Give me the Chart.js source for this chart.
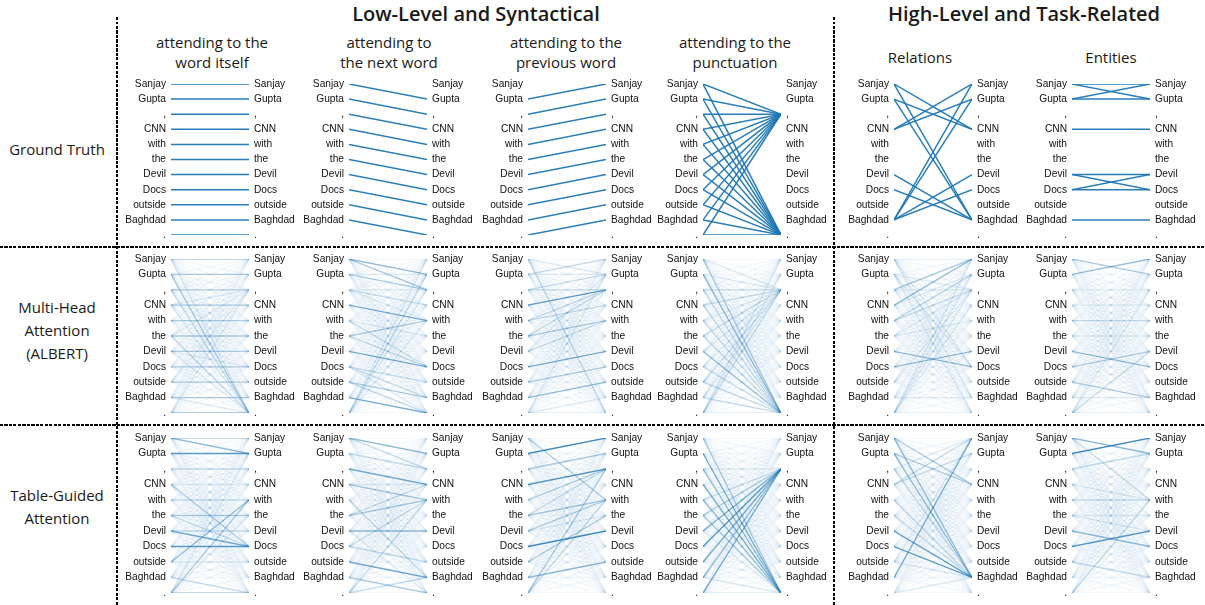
<!DOCTYPE html>
<html>
<head>
<meta charset="utf-8">
<script src="https://cdn.jsdelivr.net/npm/chart.js@4.4.0/dist/chart.umd.min.js"></script>
<style>
  html, body { margin: 0; padding: 0; background: #fff; }
  body { width: 1205px; height: 605px; position: relative; overflow: hidden;
         font-family: "Open Sans", "Noto Sans", sans-serif; color: #1a1a1a; }
  .txt { position: absolute; text-align: center; transform: translateX(-50%); white-space: nowrap; }
  .group { font-size: 20px; font-weight: 600; line-height: 22px; top: 3px; }
  .col { font-size: 15px; line-height: 20px; }
  .row { font-size: 15px; line-height: 23px; }
  .vdiv { position: absolute; width: 2px;
          background: repeating-linear-gradient(to bottom, #000 0 3px, transparent 3px 4.5px); }
  .hdiv { position: absolute; height: 2px; left: 0; width: 1205px;
          background: repeating-linear-gradient(to right, #000 0 3px, transparent 3px 4.5px); }
  .panel { position: absolute; }
</style>
</head>
<body>

<div class="txt group" style="left:476px">Low-Level and Syntactical</div>
<div class="txt group" style="left:1024px">High-Level and Task-Related</div>

<div class="txt col" style="left:212px;top:32px">attending to the<br>word itself</div>
<div class="txt col" style="left:389px;top:32px">attending to<br>the next word</div>
<div class="txt col" style="left:566px;top:32px">attending to the<br>previous word</div>
<div class="txt col" style="left:735px;top:32px">attending to the<br>punctuation</div>
<div class="txt col" style="left:920px;top:47px">Relations</div>
<div class="txt col" style="left:1111px;top:47px">Entities</div>

<div class="txt row" style="left:57px;top:138px">Ground Truth</div>
<div class="txt row" style="left:57px;top:296px">Multi-Head<br>Attention<br>(ALBERT)</div>
<div class="txt row" style="left:57px;top:484px">Table-Guided<br>Attention</div>

<div class="vdiv" style="left:116px;top:17px;height:588px"></div>
<div class="vdiv" style="left:833px;top:17px;height:588px"></div>
<div class="hdiv" style="top:246px"></div>
<div class="hdiv" style="top:424px"></div>

<script>
// Sentence tokens shown on both sides of every panel
const tokens = ["Sanjay", "Gupta", ",", "CNN", "with", "the", "Devil", "Docs", "outside", "Baghdad", "."];

// Ground-truth attention patterns: [from token, to token]
const gtSelf  = [[0,0],[1,1],[2,2],[3,3],[4,4],[5,5],[6,6],[7,7],[8,8],[9,9],[10,10]];
const gtNext  = [[0,1],[1,2],[2,3],[3,4],[4,5],[5,6],[6,7],[7,8],[8,9],[9,10]];
const gtPrev  = [[1,0],[2,1],[3,2],[4,3],[5,4],[6,5],[7,6],[8,7],[9,8],[10,9]];
const gtPunct = [[0,2],[0,10],[1,2],[1,10],[2,2],[2,10],[3,2],[3,10],[4,2],[4,10],[5,2],[5,10],
                 [6,2],[6,10],[7,2],[7,10],[8,2],[8,10],[9,2],[9,10],[10,2],[10,10]];
const gtRel   = [[0,3],[0,9],[1,3],[1,9],[3,0],[3,1],[6,9],[7,9],[9,0],[9,1],[9,6],[9,7]];
const gtEnt   = [[0,0],[0,1],[1,0],[1,1],[3,3],[6,6],[6,7],[7,6],[7,7],[9,9]];

// Attention weights (0-9), one string per source token, one digit per target token
const albertSelf  = ["41111111112","14111111114","11411111113","11241111112","11114111111","11211411113",
                     "11111142112","11111114111","11211111411","11111111142","11211111115"];
const albertNext  = ["15411111111","12411111111","11232111111","11116111111","11111213111","11114113111",
                     "11111116111","11111111332","11111111143","11111111116","23212111111"];
const albertPrev  = ["12111111113","32111111111","13311111111","11711111111","11331111111","11314111111",
                     "12113111111","11111161111","11111114111","11111111511","12111111122"];
const albertPunct = ["11211111114","11211111115","11311111113","11311111113","11211111113","11311111113",
                     "11211111115","11211111113","11311111113","11211111113","22311111112"];
const albertRel   = ["21111112121","11211112112","41211111111","52111111111","13311111111","11212111111",
                     "11111115111","11111151111","11211111111","11111111121","22221111112"];
const albertEnt   = ["14111111111","51111111111","11211111111","11121111111","11113111111","11111211111",
                     "11111115111","11111141111","11111111141","11111111121","11211131112"];

const tgaSelf  = ["45111111111","17111111111","11311111111","11121114111","11113111111","11111413111",
                  "11111136111","11111117111","11115111211","11111111113","12114211114"];
const tgaNext  = ["15311111111","11311111111","11161111111","11124111111","11111111131","11134111111",
                  "11111151112","11113111311","11111111161","11111111114","11113111131"];
const tgaPrev  = ["11114111111","81111111111","14111111111","11711111111","11411111111","11314111111",
                  "11114211111","11111181111","11111411111","11111111511","11413111111"];
const tgaPunct = ["11111111114","11111111116","11211111115","11111111116","11311111115","11411111114",
                  "11611111112","11711111111","11611111111","11511111112","11611111112"];
const tgaRel   = ["11141111151","11141111151","21111111131","33111111111","11111111131","11111111131",
                  "11111111171","11111111171","21111111121","61111111111","11111111121"];
const tgaEnt   = ["15113111111","81111111111","13111111111","11112111111","11113111111","11111221111",
                  "11111115111","11111171111","11111111131","11111111111","11113111111"];

// ---- drawing ----
const BLUE = "31,119,180";
const ALPHA = [0, 0.06, 0.16, 0.27, 0.38, 0.5, 0.62, 0.74, 0.86, 0.95];
const AXW = 60, PAD = 10, LINE_W = 78;
const colStart = [171, 349, 528, 703, 894, 1072];
const rows = [
  { top: 74,  height: 171 },
  { top: 249, height: 174 },
  { top: 428, height: 175 }
];

function pairsToSets(pairs) {
  return pairs.map(([a, b]) => ({ from: a, to: b, color: "rgba(" + BLUE + ",0.95)", width: 1.5, w: 9 }));
}
function matrixToSets(mat) {
  const out = [];
  mat.forEach((rowStr, a) => {
    rowStr.split("").forEach((ch, b) => {
      const w = +ch;
      if (w > 0) out.push({ from: a, to: b, color: "rgba(" + BLUE + "," + ALPHA[w] + ")", width: 1.3, w });
    });
  });
  // strongest first: Chart.js paints the first dataset on top
  out.sort((p, q) => q.w - p.w);
  return out;
}

function axis(position) {
  return {
    type: "linear", axis: "y", position, min: 0, max: 10, reverse: true,
    grid: { display: false, drawTicks: false }, border: { display: false },
    ticks: {
      padding: 5, autoSkip: false, color: "#111",
      font: { family: "Liberation Sans", size: 10.2 },
      callback: v => tokens[v]
    },
    afterBuildTicks: s => { s.ticks = tokens.map((t, i) => ({ value: i })); },
    afterFit: s => { s.width = AXW; s.paddingTop = 0; s.paddingBottom = 0; }
  };
}

function panel(r, c, sets) {
  const div = document.createElement("div");
  div.className = "panel";
  const w = AXW * 2 + LINE_W, h = rows[r].height;
  div.style.left = (colStart[c] - AXW) + "px";
  div.style.top = rows[r].top + "px";
  div.style.width = w + "px";
  div.style.height = h + "px";
  const cv = document.createElement("canvas");
  cv.width = w; cv.height = h;
  cv.style.width = w + "px"; cv.style.height = h + "px";
  div.appendChild(cv);
  document.body.appendChild(div);

  new Chart(cv, {
    type: "scatter",
    data: {
      datasets: sets.map(s => ({
        data: [{ x: 0, y: s.from }, { x: 1, y: s.to }],
        yAxisID: "yl", showLine: true, fill: false,
        borderColor: s.color, borderWidth: s.width,
        pointRadius: 0, pointHoverRadius: 0, tension: 0
      }))
    },
    options: {
      responsive: false, animation: false, events: [],
      devicePixelRatio: 1,
      layout: { padding: { top: PAD, bottom: PAD, left: 0, right: 0 } },
      plugins: { legend: { display: false }, tooltip: { enabled: false } },
      scales: {
        x: { type: "linear", min: 0, max: 1, display: false },
        yl: axis("left"),
        yr: axis("right")
      }
    }
  });
}

const grid = [
  [gtSelf, gtNext, gtPrev, gtPunct, gtRel, gtEnt].map(pairsToSets),
  [albertSelf, albertNext, albertPrev, albertPunct, albertRel, albertEnt].map(matrixToSets),
  [tgaSelf, tgaNext, tgaPrev, tgaPunct, tgaRel, tgaEnt].map(matrixToSets)
];
grid.forEach((rowSets, r) => rowSets.forEach((sets, c) => panel(r, c, sets)));
</script>
</body>
</html>
